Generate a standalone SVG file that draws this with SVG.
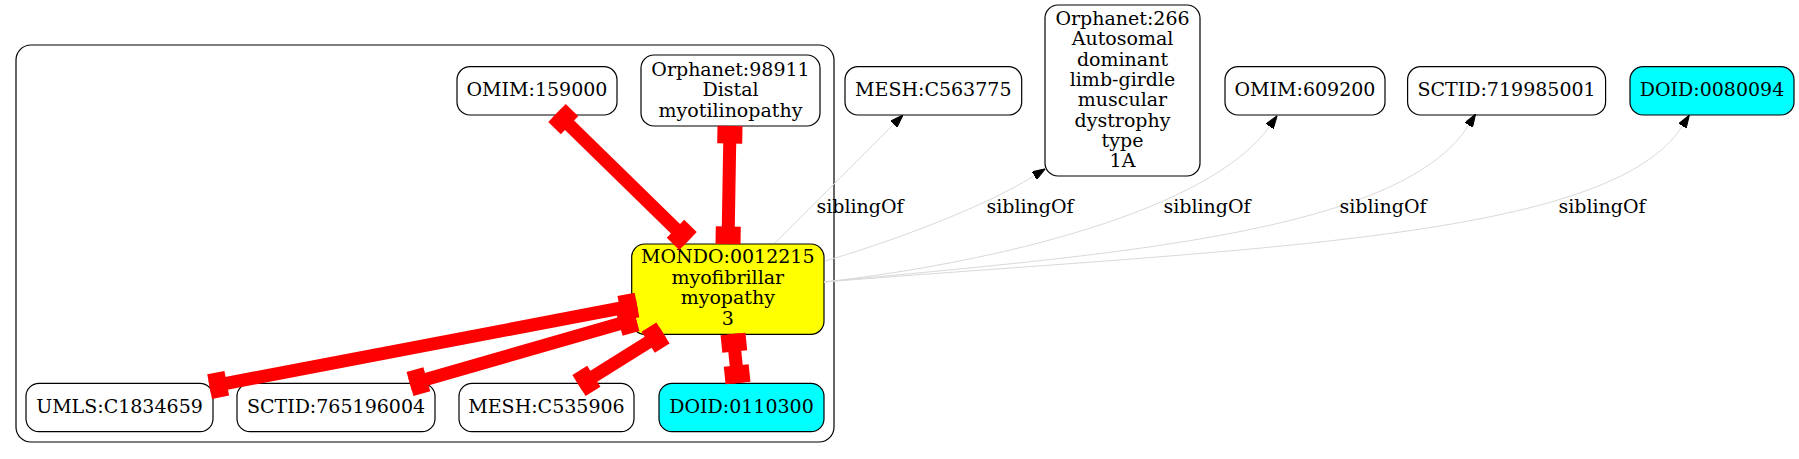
<svg xmlns="http://www.w3.org/2000/svg" width="1799" height="459" viewBox="0 0 1799 459">
<style>
  text { font-family: "DejaVu Serif", "Liberation Serif", serif; font-size: 19px; fill: #000; text-anchor: middle; }
  .node { fill: #fff; stroke: #000; stroke-width: 1.2; }
  .yellow { fill: #ffff00; }
  .cyan { fill: #00ffff; }
  .cluster { fill: none; stroke: #000; stroke-width: 1.2; }
  .red { stroke: #ff0000; stroke-width: 13; fill: none; }
  .rbox { fill: #ff0000; }
  .sib { stroke: #d9d9d9; stroke-width: 1; fill: none; marker-end: url(#arr); }
</style>
<defs>
  <marker id="arr" markerUnits="userSpaceOnUse" markerWidth="13" markerHeight="9" viewBox="0 0 13 9" refX="0" refY="4.5" orient="auto">
    <path d="M0,0 L13,4.5 L0,9 Z" fill="#000" stroke="#000" stroke-width="1"/>
  </marker>
</defs>
<rect width="1799" height="459" fill="#fff"/>
<g id="cluster">
  <rect class="cluster" x="16" y="45" width="818" height="397" rx="15"/>
</g>
<g id="nodes">
  <g id="OMIM_159000"><rect class="node" x="457" y="66.7" width="160" height="48.3" rx="13"/><text x="537" y="96">OMIM:159000</text></g>
  <g id="Orphanet_98911"><rect class="node" x="641" y="55" width="179" height="71" rx="13"/><text x="730.5" y="75.5">Orphanet:98911</text><text x="730.5" y="96">Distal</text><text x="730.5" y="116.5">myotilinopathy</text></g>
  <g id="MONDO_0012215"><rect class="node yellow" x="631.7" y="244" width="192.3" height="90.3" rx="13"/><text x="727.8" y="263">MONDO:0012215</text><text x="727.8" y="283.5">myofibrillar</text><text x="727.8" y="304">myopathy</text><text x="727.8" y="324.5">3</text></g>
  <g id="UMLS_C1834659"><rect class="node" x="26" y="383.3" width="187" height="48.4" rx="13"/><text x="119.5" y="413">UMLS:C1834659</text></g>
  <g id="SCTID_765196004"><rect class="node" x="237" y="383.3" width="198" height="48.4" rx="13"/><text x="336" y="413">SCTID:765196004</text></g>
  <g id="MESH_C535906"><rect class="node" x="459" y="383.3" width="175" height="48.4" rx="13"/><text x="546.5" y="413">MESH:C535906</text></g>
  <g id="DOID_0110300"><rect class="node cyan" x="659" y="383.3" width="165" height="48.4" rx="13"/><text x="741.5" y="413">DOID:0110300</text></g>
  <g id="MESH_C563775"><rect class="node" x="845" y="66.7" width="176.7" height="48.3" rx="13"/><text x="933.3" y="96">MESH:C563775</text></g>
  <g id="Orphanet_266"><rect class="node" x="1045" y="5" width="155" height="171" rx="13"/>
    <text x="1122.5" y="25">Orphanet:266</text><text x="1122.5" y="45.3">Autosomal</text><text x="1122.5" y="65.6">dominant</text><text x="1122.5" y="85.9">limb-girdle</text><text x="1122.5" y="106.2">muscular</text><text x="1122.5" y="126.5">dystrophy</text><text x="1122.5" y="146.8">type</text><text x="1122.5" y="167.1">1A</text></g>
  <g id="OMIM_609200"><rect class="node" x="1225" y="66.7" width="160" height="48.3" rx="13"/><text x="1305" y="96">OMIM:609200</text></g>
  <g id="SCTID_719985001"><rect class="node" x="1407.6" y="66.7" width="198" height="48.3" rx="13"/><text x="1506.6" y="96">SCTID:719985001</text></g>
  <g id="DOID_0080094"><rect class="node cyan" x="1630" y="66.7" width="164" height="48.3" rx="13"/><text x="1712" y="96">DOID:0080094</text></g>
</g>
<g id="connectors">
  <g id="e_omim159000">
    <line class="red" x1="557" y1="113" x2="688" y2="241"/>
    <rect class="rbox" x="0" y="-12.5" width="17.5" height="25" transform="translate(557,113) rotate(44.3)"/>
    <rect class="rbox" x="0" y="-12.5" width="17.5" height="25" transform="translate(688,241) rotate(224.3)"/>
  </g>
  <g id="e_orphanet98911">
    <line class="red" x1="730" y1="126" x2="728" y2="244"/>
    <rect class="rbox" x="0" y="-12.5" width="17.5" height="25" transform="translate(730,126) rotate(91)"/>
    <rect class="rbox" x="0" y="-12.5" width="17.5" height="25" transform="translate(728,244) rotate(271)"/>
  </g>
  <g id="e_umls">
    <line class="red" x1="637" y1="305" x2="209.6" y2="386.6"/>
    <rect class="rbox" x="0" y="-12.5" width="17.5" height="25" transform="translate(637,305) rotate(169.2)"/>
    <rect class="rbox" x="0" y="-12.5" width="17.5" height="25" transform="translate(209.6,386.6) rotate(-10.8)"/>
  </g>
  <g id="e_sctid765196004">
    <line class="red" x1="636" y1="319" x2="410" y2="384"/>
    <rect class="rbox" x="0" y="-12.5" width="17.5" height="25" transform="translate(636,319) rotate(163.96)"/>
    <rect class="rbox" x="0" y="-12.5" width="17.5" height="25" transform="translate(410,384) rotate(-16.04)"/>
  </g>
  <g id="e_meshC535906">
    <line class="red" x1="663" y1="333" x2="579" y2="385.5"/>
    <rect class="rbox" x="0" y="-12.5" width="17.5" height="25" transform="translate(663,333) rotate(148)"/>
    <rect class="rbox" x="0" y="-12.5" width="17.5" height="25" transform="translate(579,385.5) rotate(-32)"/>
  </g>
  <g id="e_doid0110300">
    <line class="red" x1="733" y1="334" x2="738" y2="383"/>
    <rect class="rbox" x="0" y="-12.5" width="17.5" height="25" transform="translate(733,334) rotate(84.2)"/>
    <rect class="rbox" x="0" y="-12.5" width="17.5" height="25" transform="translate(738,383) rotate(264.2)"/>
  </g>
  <path class="sib" d="M775,243 L893.8,124.2"/>
  <path class="sib" d="M825,261 C880,245 980,210 1034.3,175.7"/>
  <path class="sib" d="M824,282 C1000,262 1210,210 1269.6,126.4"/>
  <path class="sib" d="M824,282 C1100,255 1400,235 1468.7,125.1"/>
  <path class="sib" d="M824,282 C1250,248 1610,240 1682.4,126"/>
  <text x="860" y="213">siblingOf</text>
  <text x="1030" y="213">siblingOf</text>
  <text x="1207" y="213">siblingOf</text>
  <text x="1383" y="213">siblingOf</text>
  <text x="1602" y="213">siblingOf</text>
</g>
</svg>
